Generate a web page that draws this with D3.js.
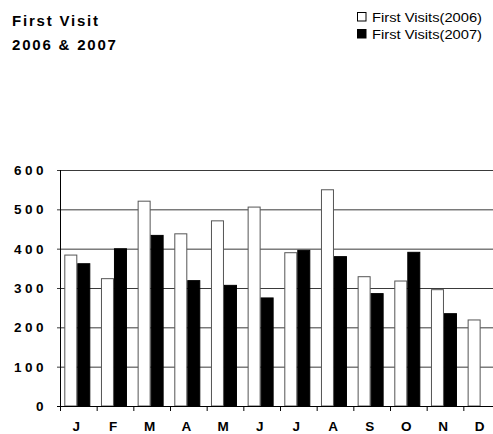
<!DOCTYPE html>
<html>
<head>
<meta charset="utf-8">
<script src="https://cdn.jsdelivr.net/npm/d3@7"></script>
<style>
  html, body { margin: 0; padding: 0; background: #fff; }
  svg { display: block; }
</style>
</head>
<body>
<svg id="chart" width="493" height="434"></svg>
<script>
const months = ["J","F","M","A","M","J","J","A","S","O","N","D"];
const seriesNames = ["First Visits(2006)", "First Visits(2007)"];
const visits2006 = [385, 325, 522, 439, 472, 507, 391, 551, 330, 319, 297, 220];
const visits2007 = [363, 401, 435, 320, 308, 276, 397, 381, 287, 392, 236, null];
const yTicks = [0, 100, 200, 300, 400, 500, 600];
const titleLines = ["First Visit", "2006 & 2007"];

const svg = d3.select("#chart");
const font = "Arial, 'Liberation Sans', sans-serif";

const idx = d3.range(months.length);
const x0 = d3.scaleBand().domain(idx).range([60, 500]).paddingInner(0).paddingOuter(0);
const x1 = d3.scaleBand().domain([0, 1]).range([4.3, 30.3]).padding(0);
const y = d3.scaleLinear().domain([0, 600]).range([406, 170]);

// gridlines
svg.append("g").selectAll("line").data(yTicks.filter(d => d > 0)).join("line")
  .attr("x1", 57).attr("x2", 493)
  .attr("y1", d => y(d) + 0.5).attr("y2", d => y(d) + 0.5)
  .attr("stroke", "#3a3a3a").attr("stroke-width", 1);

// bars
const data = idx.map(i => ({i, vals: [visits2006[i], visits2007[i]]}));
const groups = svg.append("g").selectAll("g").data(data).join("g")
  .attr("transform", d => `translate(${x0(d.i)},0)`);
groups.selectAll("rect").data(d => d.vals.map((v, s) => ({v, s})).filter(e => e.v != null)).join("rect")
  .attr("x", d => x1(d.s) + 0.5)
  .attr("y", d => y(d.v) + 0.5)
  .attr("width", x1.bandwidth() - 1)
  .attr("height", d => y(0) - y(d.v) - 0.5)
  .attr("fill", d => d.s === 0 ? "#ffffff" : "#000000")
  .attr("stroke", d => d.s === 0 ? "#555555" : "#000000")
  .attr("stroke-width", 1);

// y axis line
svg.append("line").attr("x1", 60.5).attr("x2", 60.5).attr("y1", y(600)).attr("y2", y(0) + 0.5)
  .attr("stroke", "#000").attr("stroke-width", 1);
// x axis baseline
svg.append("line").attr("x1", 57).attr("x2", 493).attr("y1", y(0) + 0.5).attr("y2", y(0) + 0.5)
  .attr("stroke", "#000").attr("stroke-width", 1.2);
// x ticks
svg.append("g").selectAll("line").data(d3.range(months.length + 1)).join("line")
  .attr("x1", i => 60 + i * x0.step() + 0.5).attr("x2", i => 60 + i * x0.step() + 0.5)
  .attr("y1", y(0)).attr("y2", y(0) + 5)
  .attr("stroke", "#000").attr("stroke-width", 1);

// y labels
svg.append("g").selectAll("text").data(yTicks).join("text")
  .attr("x", 47).attr("y", d => y(d) + 5)
  .attr("text-anchor", "end")
  .attr("font-family", font).attr("font-weight", "bold").attr("font-size", 13.5)
  .attr("letter-spacing", "3.5px")
  .attr("fill", "#000")
  .text(d => d);

// x labels
svg.append("g").selectAll("text").data(idx).join("text")
  .attr("x", i => x0(i) + x0.bandwidth() / 2 - 2)
  .attr("y", 431)
  .attr("text-anchor", "middle")
  .attr("font-family", font).attr("font-weight", "bold").attr("font-size", 13.5)
  .attr("fill", "#000")
  .text(i => months[i]);

// title
svg.append("g").selectAll("text").data(titleLines).join("text")
  .attr("x", 12).attr("y", (d, i) => 26 + i * 24)
  .attr("font-family", font).attr("font-weight", "bold").attr("font-size", 15)
  .attr("letter-spacing", "1.8px")
  .attr("fill", "#000")
  .text(d => d);

// legend
const leg = svg.append("g").selectAll("g").data(seriesNames).join("g")
  .attr("transform", (d, i) => `translate(357,${12 + i * 17})`);
leg.append("rect").attr("x", 0.5).attr("y", 0.5).attr("width", 8.5).attr("height", 8.5)
  .attr("fill", (d, i) => i === 0 ? "#fff" : "#000")
  .attr("stroke", "#000").attr("stroke-width", 1);
leg.append("text").attr("x", 15).attr("y", 9.5)
  .attr("font-family", font).attr("font-size", 12)
  .attr("textLength", 110).attr("lengthAdjust", "spacingAndGlyphs")
  .attr("fill", "#000")
  .text(d => d);
</script>
</body>
</html>
